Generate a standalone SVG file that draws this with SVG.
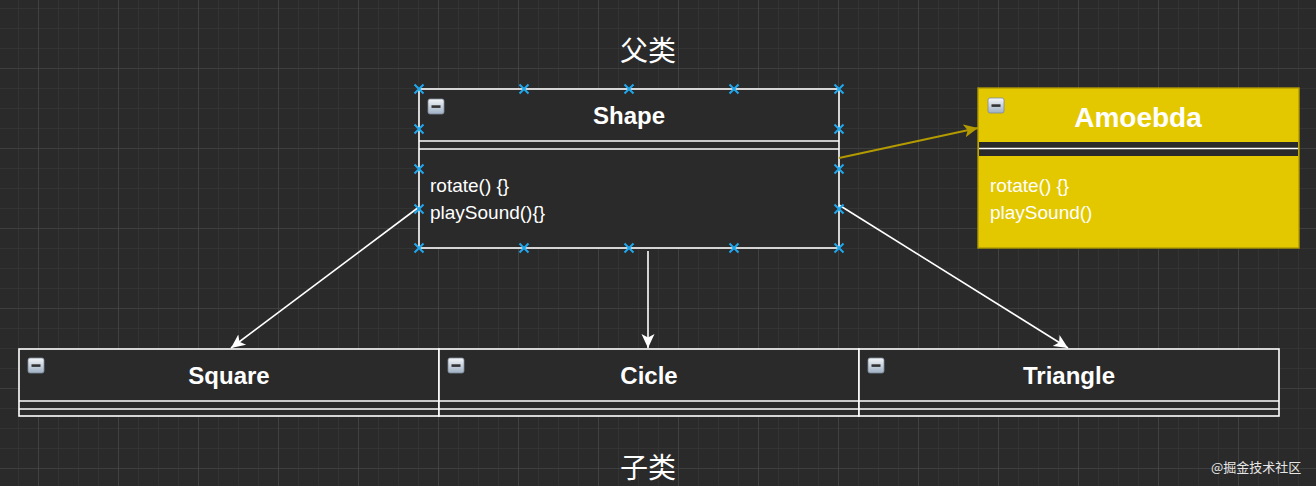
<svg xmlns="http://www.w3.org/2000/svg" width="1316" height="486" viewBox="0 0 1316 486">
<defs>
  <pattern id="minor" width="20" height="20" patternUnits="userSpaceOnUse" x="-2" y="8">
    <path d="M0 0H20M0 0V20" fill="none" stroke="#363636" stroke-width="1.5"/>
  </pattern>
  <pattern id="major" width="80" height="80" patternUnits="userSpaceOnUse" x="38" y="68">
    <path d="M0 0H80M0 0V80" fill="none" stroke="#4a4a4a" stroke-width="1.2"/>
  </pattern>
  <linearGradient id="icg" x1="0" y1="0" x2="0" y2="1">
    <stop offset="0" stop-color="#f4f6f8"/>
    <stop offset="1" stop-color="#9fb0c4"/>
  </linearGradient>
  <g id="icon">
    <rect x="0" y="0" width="16" height="15" rx="2" fill="url(#icg)" stroke="#7d8a99" stroke-width="0.8"/>
    <rect x="3.5" y="6.3" width="9" height="2.6" fill="#333"/>
  </g>
  <path id="xm" d="M-4.5 -4.5L4.5 4.5M-4.5 4.5L4.5 -4.5" stroke="#1fa8ee" stroke-width="2" fill="none"/>
  <marker id="aw" markerUnits="userSpaceOnUse" markerWidth="18" markerHeight="16" refX="14" refY="6.5" orient="auto" viewBox="0 0 18 13">
    <path d="M0 0L14 6.5L0 13L3.5 6.5Z" fill="#ffffff"/>
  </marker>
  <marker id="ay" markerUnits="userSpaceOnUse" markerWidth="18" markerHeight="16" refX="14" refY="6.5" orient="auto" viewBox="0 0 18 13">
    <path d="M0 0L14 6.5L0 13L3.5 6.5Z" fill="#b39a00"/>
  </marker>
</defs>
<style>
  .box{fill:#2a2a2a;stroke:#ffffff;stroke-width:1.6}
  .ln{stroke:#ffffff;stroke-width:1.6;fill:none}
  .ttl{font-family:"Liberation Sans",Arial,sans-serif;font-weight:bold;font-size:24px;fill:#ffffff;text-anchor:middle}
  .mth{font-family:"Liberation Sans",Arial,sans-serif;font-size:19px;fill:#ffffff}
  .cjk{font-family:"Noto Sans CJK SC",sans-serif;font-size:28px;fill:#ffffff;text-anchor:middle}
  .edge{stroke:#ffffff;stroke-width:1.6;fill:none}
</style>
<rect width="1316" height="486" fill="#2a2a2a"/>
<rect width="1316" height="486" fill="url(#minor)"/>
<rect width="1316" height="486" fill="url(#major)"/>

<text class="cjk" x="648" y="61">父类</text>
<text class="cjk" x="648" y="478">子类</text>

<g id="node-shape">
  <rect class="box" x="419" y="89" width="420" height="159"/>
  <line class="ln" x1="419" y1="141" x2="839" y2="141"/>
  <line class="ln" x1="419" y1="149" x2="839" y2="149"/>
  <use href="#icon" x="428" y="99"/>
  <text class="ttl" x="629" y="124">Shape</text>
  <text class="mth" x="430" y="192">rotate() {}</text>
  <text class="mth" x="430" y="219">playSound(){}</text>
</g>

<g id="node-amoebda">
  <rect x="978" y="88" width="321" height="160" fill="#e3c800" stroke="#b09a00" stroke-width="1.4"/>
  <rect x="979" y="142" width="319" height="14" fill="#2a2a2a"/>
  <line x1="979" y1="148.5" x2="1298" y2="148.5" stroke="#ffffff" stroke-width="1.6"/>
  <use href="#icon" x="988" y="98"/>
  <text class="ttl" x="1138" y="127" style="font-size:28px">Amoebda</text>
  <text class="mth" x="990" y="192">rotate() {}</text>
  <text class="mth" x="990" y="219">playSound()</text>
</g>

<g id="node-square">
  <rect class="box" x="19" y="349" width="420" height="67"/>
  <line class="ln" x1="19" y1="401" x2="439" y2="401"/>
  <line class="ln" x1="19" y1="409" x2="439" y2="409"/>
  <use href="#icon" x="28" y="358"/>
  <text class="ttl" x="229" y="384">Square</text>
</g>

<g id="node-cicle">
  <rect class="box" x="439" y="349" width="420" height="67"/>
  <line class="ln" x1="439" y1="401" x2="859" y2="401"/>
  <line class="ln" x1="439" y1="409" x2="859" y2="409"/>
  <use href="#icon" x="448" y="358"/>
  <text class="ttl" x="649" y="384">Cicle</text>
</g>

<g id="node-triangle">
  <rect class="box" x="859" y="349" width="420" height="67"/>
  <line class="ln" x1="859" y1="401" x2="1279" y2="401"/>
  <line class="ln" x1="859" y1="409" x2="1279" y2="409"/>
  <use href="#icon" x="868" y="358"/>
  <text class="ttl" x="1069" y="384">Triangle</text>
</g>

<g id="connectors">
  <line class="edge" x1="419" y1="207" x2="231" y2="348" marker-end="url(#aw)"/>
  <line class="edge" x1="648" y1="251" x2="648" y2="348" marker-end="url(#aw)"/>
  <line class="edge" x1="839" y1="205" x2="1068" y2="348" marker-end="url(#aw)"/>
  <line x1="839" y1="158" x2="978" y2="128" stroke="#b39a00" stroke-width="2" marker-end="url(#ay)"/>
</g>

<g id="handles">
  <use href="#xm" x="419" y="89"/><use href="#xm" x="524" y="89"/><use href="#xm" x="629" y="89"/><use href="#xm" x="734" y="89"/><use href="#xm" x="839" y="89"/>
  <use href="#xm" x="419" y="248"/><use href="#xm" x="524" y="248"/><use href="#xm" x="629" y="248"/><use href="#xm" x="734" y="248"/><use href="#xm" x="839" y="248"/>
  <use href="#xm" x="419" y="129"/><use href="#xm" x="419" y="169"/><use href="#xm" x="419" y="209"/>
  <use href="#xm" x="839" y="129"/><use href="#xm" x="839" y="169"/><use href="#xm" x="839" y="209"/>
</g>

<text x="1211" y="472" style="font-family:'Noto Sans CJK SC',sans-serif;font-size:13px;fill:#e6e6e6">@掘金技术社区</text>
</svg>
